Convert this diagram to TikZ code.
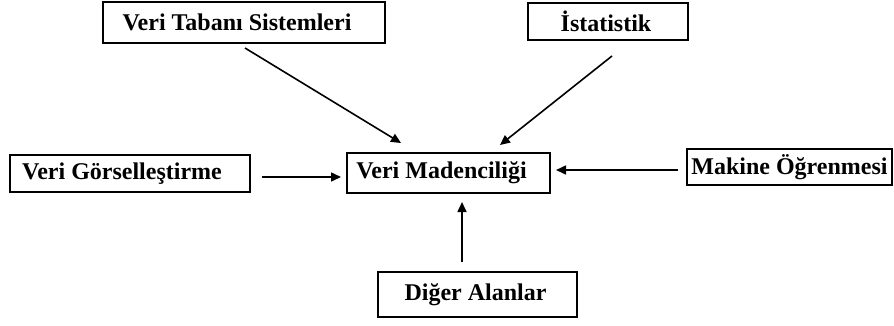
\documentclass[tikz,border=0pt]{standalone}
\usepackage{fontspec}
\setmainfont{Liberation Serif}
\usetikzlibrary{arrows.meta}
\begin{document}
\begin{tikzpicture}[x=1pt,y=-1pt,
  box/.style={draw=black, line width=2pt, fill=white, font=\fontsize{24}{26}\selectfont\bfseries, inner sep=0pt},
  arr/.style={-{Triangle[length=10pt,width=9pt]}, line width=1.6pt}]
\useasboundingbox (0,0) rectangle (894,325);
\node[box, minimum width=282pt, minimum height=41pt] (vts) at (244,22.5) {Veri Tabanı Sistemleri\kern14pt};
\node[box, minimum width=160pt, minimum height=37pt] (ist) at (608,21.5) {İstatistik\kern4pt};
\node[box, minimum width=240pt, minimum height=37pt] (vg) at (130,173.5) {Veri Görselleştirme\kern16pt};
\node[box, minimum width=203pt, minimum height=40pt] (vm) at (448.5,173) {Veri Madenciliği\kern14pt};
\node[box, minimum width=205pt, minimum height=36pt] (mo) at (789.5,167) {Makine Öğrenmesi};
\node[box, minimum width=199pt, minimum height=45pt] (da) at (477.5,294.5) {Diğer Alanlar\kern4pt};
\coordinate (a1s) at (245,48);
\coordinate (a1e) at (401,143);
\coordinate (a2s) at (612,56);
\coordinate (a2e) at (500,145);
\coordinate (a3s) at (262,177);
\coordinate (a3e) at (341,177);
\coordinate (a4s) at (678,170);
\coordinate (a4e) at (556,170);
\coordinate (a5s) at (462,262);
\coordinate (a5e) at (462,202);
\draw[arr] (a1s) -- (a1e);
\draw[arr] (a2s) -- (a2e);
\draw[arr] (a3s) -- (a3e);
\draw[arr] (a4s) -- (a4e);
\draw[arr] (a5s) -- (a5e);
\end{tikzpicture}
\end{document}
